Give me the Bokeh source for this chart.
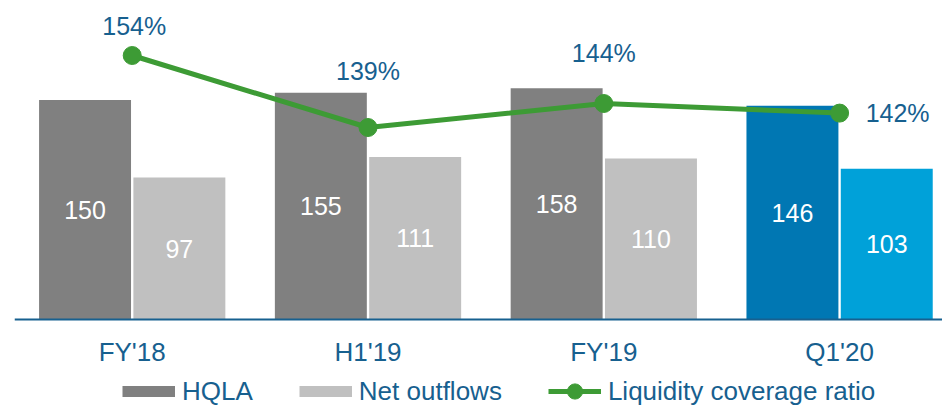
from bokeh.plotting import figure
from bokeh.models import Range1d, FixedTicker, Legend, LegendItem, ColumnDataSource
from bokeh.core.properties import value
from bokeh.transform import dodge
from bokeh.embed import file_html
from bokeh.resources import INLINE

categories = ["FY'18", "H1'19", "FY'19", "Q1'20"]
hqla = [150, 155, 158, 146]
net_outflows = [97, 111, 110, 103]
lcr = [154, 139, 144, 142]
lcr_labels = ["154%", "139%", "144%", "142%"]

FONT = "Liberation Sans"
TEXT = "#17608f"
GREEN = "#3d9b35"
GREY_D = "#808080"
GREY_L = "#c0c0c0"
hqla_colors = [GREY_D, GREY_D, GREY_D, "#0077b3"]
no_colors = [GREY_L, GREY_L, GREY_L, "#00a1d9"]
# label offsets (pixels) relative to each LCR point
lbl_dx = [2, 0, 0, 58]
lbl_dy = [-30, -57, -51, 0]

xs = list(range(len(categories)))
src = ColumnDataSource(dict(
    x=xs, hqla=hqla, no=net_outflows, lcr=lcr, lcr_lbl=lcr_labels,
    hqla_mid=[v / 2 for v in hqla], no_mid=[v / 2 for v in net_outflows],
    hqla_txt=[str(v) for v in hqla], no_txt=[str(v) for v in net_outflows],
    hc=hqla_colors, nc=no_colors, dx=lbl_dx, dy=lbl_dy,
))

p = figure(frame_width=928, frame_height=406, x_range=Range1d(-0.4992, 3.4364),
           y_range=Range1d(-59.47, 218.0),
           output_backend="svg", toolbar_location=None, y_axis_location=None,
           min_border_left=14, min_border_right=0, min_border_top=0, min_border_bottom=0)
p.extra_y_ranges = {"lcr": Range1d(80.875, 165.46)}
p.outline_line_color = None
p.xgrid.visible = False
p.ygrid.visible = False
p.background_fill_color = "white"

W = 0.39
hb = p.vbar(x=dodge("x", -0.2, range=p.x_range), top="hqla", width=W, source=src,
            fill_color="hc", line_color=None)
nb = p.vbar(x=dodge("x", 0.2, range=p.x_range), top="no", width=W, source=src,
            fill_color="nc", line_color=None)

p.text(x=dodge("x", -0.2, range=p.x_range), y="hqla_mid", text="hqla_txt", source=src,
       text_color="white", text_font=value(FONT), text_font_size="25px",
       text_align="center", text_baseline="middle")
p.text(x=dodge("x", 0.2, range=p.x_range), y="no_mid", text="no_txt", source=src,
       text_color="white", text_font=value(FONT), text_font_size="25px",
       text_align="center", text_baseline="middle")

ln = p.line(x="x", y="lcr", source=src, y_range_name="lcr", line_color=GREEN, line_width=5)
dots = p.scatter(x="x", y="lcr", source=src, y_range_name="lcr", size=18,
                 fill_color=GREEN, line_color=GREEN)
p.text(x="x", y="lcr", text="lcr_lbl", source=src, y_range_name="lcr",
       x_offset="dx", y_offset="dy", text_color=TEXT, text_font=value(FONT),
       text_font_size="25px", text_align="center", text_baseline="middle")

# legend swatches (one undefined point each, so they are drawn only in the legend)
sw_src = ColumnDataSource(dict(x=[xs[0]], y=[float("nan")]))
sw_h = p.line(x="x", y="y", source=sw_src, line_color=GREY_D, line_width=11)
sw_n = p.line(x="x", y="y", source=sw_src, line_color=GREY_L, line_width=11)

ax = p.xaxis[0]
ax.fixed_location = 0
ax.ticker = FixedTicker(ticks=xs)
ax.major_label_overrides = {i: c for i, c in zip(xs, categories)}
ax.axis_line_color = TEXT
ax.axis_line_width = 2
ax.major_tick_line_color = None
ax.major_tick_out = 0
ax.major_tick_in = 0
ax.minor_tick_line_color = None
ax.minor_tick_out = 0
ax.major_label_text_font = FONT
ax.major_label_text_font_size = "26px"
ax.major_label_text_color = TEXT
ax.major_label_standoff = 18

legend = Legend(items=[
    LegendItem(label="HQLA", renderers=[sw_h], index=0),
    LegendItem(label="Net outflows", renderers=[sw_n], index=0),
    LegendItem(label="Liquidity coverage ratio", renderers=[ln, dots], index=0),
], orientation="horizontal", location=(108, -4), glyph_width=53, glyph_height=38,
    label_text_font=FONT, label_text_font_size="26px", label_text_color=TEXT,
    spacing=46, label_standoff=7, padding=0, margin=0,
    border_line_color=None, background_fill_alpha=0)
p.add_layout(legend)

open("out.html", "w").write(file_html(p, INLINE))
